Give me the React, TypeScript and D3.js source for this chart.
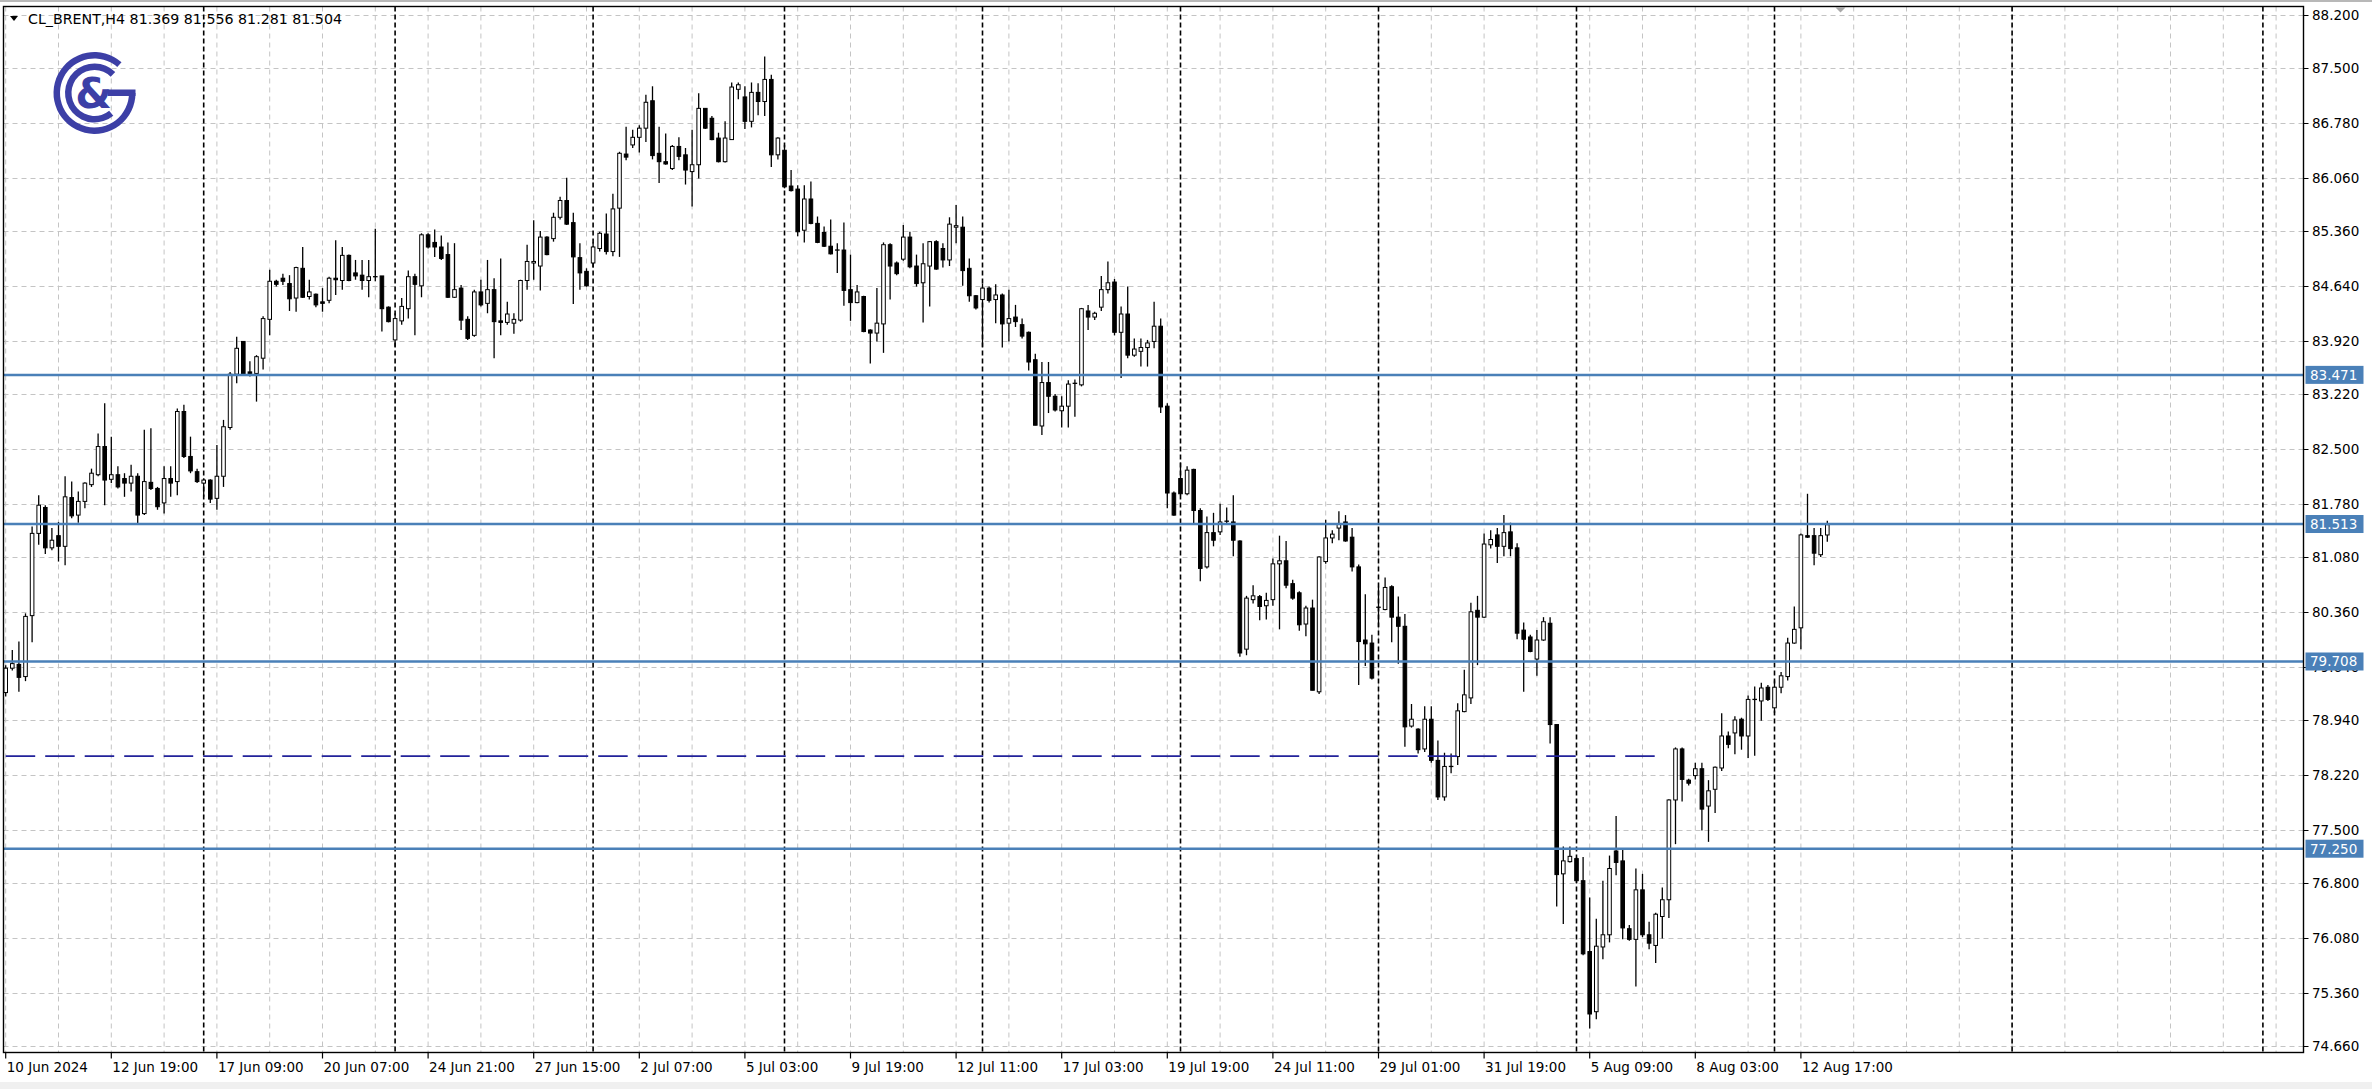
import React from "react";
import * as d3 from "d3";

const W = 2372;
const H = 1089;
const frame = { left: 3.5, top: 6.5, right: 2303.5, bottom: 1052.5 };

const opens = [
  79.30,79.62,79.67,79.51,80.31,81.39,81.73,81.20,81.36,81.22,
  81.86,81.63,81.81,82.03,82.16,82.53,82.10,82.16,82.11,82.05,
  82.14,81.65,82.06,81.98,81.79,82.11,82.07,82.99,82.40,82.20,
  82.05,82.09,81.85,82.14,82.78,83.48,83.91,83.51,83.49,83.69,
  84.20,84.70,84.74,84.67,84.48,84.87,84.50,84.53,84.43,84.45,
  84.74,84.71,85.04,84.81,84.78,84.71,84.75,84.77,84.36,83.93,
  84.18,84.34,84.76,84.64,85.31,85.21,85.15,85.05,84.49,84.61,
  84.20,83.99,84.56,84.41,84.59,84.18,84.16,84.15,84.19,84.71,
  84.94,84.90,85.28,85.26,85.54,85.76,85.47,85.01,84.83,84.94,
  85.13,85.32,85.09,85.66,86.37,86.49,86.59,86.71,87.07,86.38,
  86.27,86.18,86.47,86.36,86.14,86.23,86.97,86.84,86.58,86.27,
  86.56,87.22,87.12,86.80,87.18,87.06,87.35,86.36,86.42,85.95,
  85.91,85.37,85.78,85.46,85.34,85.16,85.11,85.11,84.59,84.42,
  84.50,84.06,84.02,84.14,85.18,84.94,84.99,85.28,84.90,84.68,
  84.90,85.22,85.13,84.98,85.41,85.41,84.87,84.51,84.46,84.61,
  84.46,84.52,84.15,84.23,84.13,84.03,83.67,82.80,83.37,83.19,
  83.00,83.06,83.35,83.34,84.31,84.23,84.36,84.59,84.69,84.03,
  84.27,83.73,83.78,83.83,83.91,84.11,83.06,81.92,82.11,81.91,
  82.23,81.69,80.95,81.40,81.41,81.54,81.54,81.29,79.87,80.52,
  80.56,80.44,80.52,80.99,81.03,80.73,80.61,80.20,80.41,79.31,
  81.02,81.33,81.46,81.54,81.34,80.95,79.99,79.95,80.41,80.39,
  80.69,80.29,80.17,78.86,78.82,78.56,78.95,78.41,77.93,78.33,
  78.46,79.05,79.23,80.38,80.29,81.24,81.37,81.22,81.41,81.20,
  80.12,80.03,79.74,79.99,80.21,78.88,76.92,77.08,77.12,76.83,
  75.90,75.11,75.96,76.12,77.22,77.09,76.20,76.06,76.71,76.12,
  75.98,76.36,76.58,77.89,78.56,78.15,78.21,78.30,77.81,78.03,
  78.31,78.73,78.77,78.95,78.73,79.21,79.19,79.37,79.10,79.37,
  79.51,79.95,80.15,81.36,81.36,81.11,81.369,
];

const highs = [
  79.66,79.86,79.97,80.34,81.48,81.89,81.76,81.46,81.54,82.14,
  82.07,81.94,82.06,82.24,82.70,83.10,82.66,82.27,82.18,82.29,
  82.18,82.75,82.77,82.00,82.27,82.27,83.03,83.08,82.66,82.24,
  82.11,82.10,82.55,82.88,83.51,83.97,83.91,83.65,83.73,84.24,
  84.85,84.72,84.80,84.78,84.89,85.15,84.72,84.54,84.61,84.76,
  85.24,85.15,85.05,84.98,84.98,84.98,85.39,84.77,84.37,84.28,
  84.48,84.84,84.80,85.33,85.33,85.38,85.30,85.21,85.20,84.65,
  84.24,84.59,84.72,84.98,84.74,85.00,84.43,84.28,84.72,85.18,
  85.50,85.36,85.29,85.60,85.81,86.06,85.60,85.20,84.87,85.21,
  85.35,85.59,85.85,86.40,86.73,86.69,86.75,87.15,87.26,86.73,
  86.64,86.49,86.59,86.45,86.69,87.17,86.97,86.87,86.65,86.80,
  87.31,87.31,87.26,87.31,87.30,87.65,87.41,86.59,86.49,86.16,
  85.96,85.96,86.01,85.55,85.42,85.51,85.20,85.47,85.05,84.65,
  84.51,84.07,84.61,85.21,85.20,84.96,85.44,85.35,85.05,85.20,
  85.23,85.24,85.20,85.54,85.70,85.55,85.00,84.52,84.67,84.63,
  84.66,84.54,84.59,84.39,84.21,84.04,83.75,83.64,83.64,83.22,
  83.19,83.40,83.41,84.35,84.39,84.30,84.77,84.96,84.73,84.37,
  84.63,83.95,83.95,83.93,84.43,84.21,83.10,81.94,82.32,82.27,
  82.24,81.72,81.61,81.66,81.78,81.73,81.89,81.30,80.57,80.71,
  80.58,80.61,81.06,81.36,81.29,80.78,80.63,80.44,80.52,81.09,
  81.57,81.43,81.68,81.63,81.46,80.98,80.59,80.06,80.69,80.81,
  80.71,80.56,80.33,79.15,78.83,79.12,79.12,78.67,78.51,78.50,
  79.16,79.60,80.48,80.57,81.39,81.43,81.46,81.63,81.53,81.26,
  80.22,80.06,80.12,80.29,80.29,78.88,77.28,77.28,77.14,77.14,
  76.61,76.33,76.83,77.16,77.68,77.26,76.25,76.99,76.92,76.29,
  76.41,76.74,77.90,78.58,78.58,78.17,78.38,78.38,78.15,78.33,
  79.03,78.79,78.99,78.97,79.26,79.38,79.43,79.40,79.46,79.57,
  80.02,80.43,81.39,81.91,81.46,81.46,81.556,
];

const lows = [
  79.25,79.59,79.31,79.45,79.96,81.24,81.12,81.17,81.02,80.97,
  81.59,81.53,81.72,82.00,82.14,81.76,82.05,81.98,81.87,81.94,
  81.52,81.63,81.96,81.70,81.65,81.87,81.89,82.38,82.18,82.05,
  81.87,81.79,81.70,82.00,82.75,83.36,83.46,83.45,83.12,83.54,
  83.99,84.63,84.65,84.31,84.30,84.48,84.46,84.36,84.30,84.41,
  84.52,84.59,84.70,84.72,84.59,84.49,84.70,84.04,84.16,83.84,
  84.13,84.21,83.99,84.49,85.13,85.02,84.98,84.48,84.48,84.06,
  83.93,83.97,84.37,84.28,83.69,83.99,84.13,84.01,84.17,84.59,
  84.72,84.58,85.04,85.22,85.51,85.44,84.40,84.59,84.63,84.88,
  85.09,85.05,85.03,85.02,86.29,86.45,86.39,86.53,86.30,85.99,
  86.23,86.16,86.29,85.97,85.68,86.05,86.70,86.55,86.26,86.26,
  86.56,87.09,86.70,86.72,86.88,86.87,86.20,86.30,85.92,85.88,
  85.29,85.21,85.45,85.20,85.15,85.05,84.81,84.38,84.18,84.41,
  84.03,83.62,83.91,83.76,84.46,84.78,84.97,84.87,84.63,84.16,
  84.37,84.85,84.88,84.90,85.20,84.64,84.43,84.33,83.84,84.42,
  84.15,83.83,83.91,84.10,83.95,83.53,82.81,82.68,82.97,82.99,
  82.78,82.78,82.92,83.32,84.06,84.19,84.31,84.54,83.99,83.43,
  83.69,83.71,83.58,83.58,83.82,82.97,81.72,81.62,81.89,81.89,
  81.52,80.76,80.93,81.22,81.37,81.50,81.09,79.77,79.79,80.47,
  80.25,80.26,80.44,80.13,80.67,80.52,80.11,80.04,79.33,79.28,
  80.99,81.26,81.30,81.28,80.89,79.40,79.65,79.47,80.16,80.38,
  79.96,79.68,78.59,78.84,78.50,78.52,78.38,77.89,77.88,78.24,
  78.35,79.04,79.15,79.66,80.28,81.19,81.00,81.09,81.09,80.00,
  79.31,79.83,79.52,79.98,78.63,76.49,76.26,77.07,76.80,75.85,
  74.89,75.01,75.80,76.02,76.90,76.06,76.04,75.44,76.09,75.93,
  75.75,76.07,76.34,77.31,77.87,78.08,78.16,77.49,77.34,77.72,
  78.27,78.57,78.49,78.55,78.44,78.47,78.93,79.19,79.03,79.29,
  79.46,79.94,79.87,81.33,80.97,81.08,81.281,
];

const closes = [
  79.62,79.68,79.50,80.30,81.39,81.76,81.20,81.30,81.22,81.87,
  81.62,81.81,82.05,82.18,82.53,82.09,82.16,82.00,82.05,82.14,
  81.63,82.07,81.98,81.74,82.11,82.05,82.99,82.40,82.21,82.07,
  82.09,81.84,82.14,82.79,83.48,83.82,83.48,83.47,83.71,84.21,
  84.70,84.66,84.70,84.47,84.88,84.49,84.56,84.39,84.41,84.74,
  84.72,85.04,84.71,84.77,84.71,84.76,84.76,84.34,84.17,84.21,
  84.37,84.76,84.66,85.31,85.15,85.15,85.00,84.49,84.59,84.19,
  83.95,84.56,84.39,84.59,84.17,84.16,84.27,84.20,84.71,84.96,
  84.96,85.28,85.05,85.54,85.76,85.45,85.02,84.81,84.64,85.15,
  85.33,85.09,85.65,86.38,86.33,86.59,86.71,87.05,86.35,86.27,
  86.24,86.47,86.34,86.16,86.23,86.97,86.71,86.56,86.27,86.58,
  87.25,87.28,86.80,87.18,87.06,87.35,86.36,86.58,85.94,85.89,
  85.35,85.78,85.46,85.21,85.16,85.06,85.10,84.58,84.42,84.56,
  84.04,84.02,84.15,85.18,84.90,84.80,85.28,84.89,84.67,84.93,
  85.22,84.86,84.98,85.45,85.43,84.84,84.51,84.35,84.61,84.45,
  84.52,84.14,84.21,84.17,83.98,83.64,82.81,83.37,83.19,83.01,
  83.06,83.35,83.36,84.34,84.23,84.28,84.59,84.68,84.03,84.27,
  83.73,83.81,83.83,83.89,84.11,83.05,81.92,81.63,81.91,82.22,
  81.69,80.93,81.40,81.30,81.54,81.55,81.30,79.82,80.54,80.57,
  80.43,80.51,80.99,81.03,80.71,80.54,80.19,80.41,79.33,81.08,
  81.33,81.38,81.52,81.29,80.95,79.97,79.94,79.49,80.42,80.68,
  80.29,80.17,78.85,78.95,78.55,78.95,78.41,77.93,78.33,78.32,
  79.06,79.27,80.36,80.29,81.25,81.31,81.22,81.40,81.19,80.08,
  80.00,79.84,79.99,80.23,78.88,76.91,77.09,77.15,76.83,75.87,
  75.08,75.97,76.12,76.99,77.07,76.21,76.06,76.71,76.12,76.01,
  76.39,76.58,77.89,78.56,78.16,78.11,78.30,77.77,78.01,78.32,
  78.73,78.62,78.94,78.73,79.21,79.21,79.36,79.21,79.37,79.52,
  79.95,80.13,81.37,81.34,81.13,81.36,81.504,
];

const priceTicks = [88.2, 87.5, 86.78, 86.06, 85.36, 84.64, 83.92, 83.22, 82.5, 81.78,
  81.08, 80.36, 79.64, 78.94, 78.22, 77.5, 76.8, 76.08, 75.36, 74.66];

const timeLabels = ["10 Jun 2024", "12 Jun 19:00", "17 Jun 09:00", "20 Jun 07:00", "24 Jun 21:00",
  "27 Jun 15:00", "2 Jul 07:00", "5 Jul 03:00", "9 Jul 19:00", "12 Jul 11:00", "17 Jul 03:00",
  "19 Jul 19:00", "24 Jul 11:00", "29 Jul 01:00", "31 Jul 19:00", "5 Aug 09:00", "8 Aug 03:00",
  "12 Aug 17:00"];
const timeLabelStep = 16;
const gridStep = 8;
const weekStarts = [30, 59, 89, 118, 148, 178, 208, 238, 268, 304, 342];
const levels = [83.471, 81.513, 79.708, 77.25];
const dashedLevel = 78.465;
const dashedFrom = 0;
const dashedTo = 250;
const shiftMarkBar = 278;
const header = "CL_BRENT,H4  81.369 81.556 81.281 81.504";

const FONT = "'DejaVu Sans', Tahoma, sans-serif";
const LEVEL_COLOR = "#4a80b8";
const LOGO_COLOR = "#3c3fa6";

export default function App() {
  const x = d3.scaleLinear().domain([0, 1]).range([5.7, 12.3]);
  const y = d3.scaleLinear().domain([74.581, 88.314]).range([1052, 6]);
  const fmt = d3.format(".3f");

  const bars = opens.map((o, i) => {
    const c = closes[i];
    const h = Math.max(highs[i], o, c);
    const l = Math.min(lows[i], o, c);
    return { i, o, h, l, c };
  });

  const gridBars: number[] = [];
  for (let b = 0; x(b) < frame.right - 2; b += gridStep) gridBars.push(b);

  const logoCx = 94.5, logoCy = 93;
  const outerArc = d3.arc()({ innerRadius: 34.5, outerRadius: 41, startAngle: Math.PI / 2, endAngle: Math.PI * 2 + 0.72 } as any) as string;
  const innerArc = d3.arc()({ innerRadius: 23, outerRadius: 29.5, startAngle: 2.45, endAngle: Math.PI * 2 + 0.78 } as any) as string;

  const bw = 3.6;

  return (
    <svg width={W} height={H} style={{ position: "absolute", left: 0, top: 0, background: "#fff" }}>
      <rect x={0} y={0} width={W} height={H} fill="#fff" />
      <rect x={0} y={0} width={W} height={2} fill="#b8b8b8" />
      <rect x={0} y={1082} width={W} height={H - 1082} fill="#f0f0f0" />

      {/* horizontal grid */}
      <g stroke="#c4c4c4" strokeWidth={1} strokeDasharray="5,4">
        {priceTicks.map((p, k) => (
          <line key={"hg" + k} x1={frame.left} x2={frame.right} y1={Math.round(y(p)) + 0.5} y2={Math.round(y(p)) + 0.5} />
        ))}
        {gridBars.map((b) => (
          <line key={"vg" + b} x1={x(b)} x2={x(b)} y1={frame.top} y2={frame.bottom} />
        ))}
      </g>

      {/* week separators */}
      <g stroke="#000" strokeWidth={1.6} strokeDasharray="5,3">
        {weekStarts.map((b) => (
          <line key={"ws" + b} x1={x(b)} x2={x(b)} y1={frame.top} y2={frame.bottom} />
        ))}
      </g>

      {/* logo */}
      <g fill={LOGO_COLOR}>
        <path d={outerArc} transform={`translate(${logoCx},${logoCy})`} />
        <path d={innerArc} transform={`translate(${logoCx},${logoCy})`} />
        <rect x={logoCx + 13} y={logoCy - 3.5} width={28} height={6.5} />
        <text x={logoCx - 1} y={logoCy + 15} fontFamily={FONT} fontWeight="bold" fontSize={42} textAnchor="middle">&amp;</text>
      </g>

      {/* candles */}
      <g>
        {bars.map((d) => {
          const cx = x(d.i);
          const top = y(Math.max(d.o, d.c));
          const bot = y(Math.min(d.o, d.c));
          const bull = d.c >= d.o;
          const hgt = Math.max(bot - top, 1);
          return (
            <g key={"c" + d.i}>
              <line x1={cx} x2={cx} y1={y(d.h)} y2={y(d.l)} stroke="#000" strokeWidth={1.3} />
              {bot - top < 1.2 ? (
                <line x1={cx - bw / 2 - 0.5} x2={cx + bw / 2 + 0.5} y1={top} y2={top} stroke="#000" strokeWidth={1.3} />
              ) : (
                <rect x={cx - bw / 2} y={top} width={bw} height={hgt} fill={bull ? "#fff" : "#000"} stroke="#000" strokeWidth={1} />
              )}
            </g>
          );
        })}
      </g>

      {/* levels */}
      <g>
        {levels.map((p) => (
          <line key={"lv" + p} x1={frame.left} x2={frame.right} y1={y(p)} y2={y(p)} stroke={LEVEL_COLOR} strokeWidth={2.5} />
        ))}
        <line x1={x(dashedFrom)} x2={x(dashedTo)} y1={y(dashedLevel)} y2={y(dashedLevel)} stroke="#22229a" strokeWidth={1.8} strokeDasharray="29.5,10" />
      </g>

      {/* shift marker */}
      <path d={`M${x(shiftMarkBar) - 5},${frame.top + 1} L${x(shiftMarkBar) + 5},${frame.top + 1} L${x(shiftMarkBar)},${frame.top + 6} Z`} fill="#a8a8a8" />

      {/* frame */}
      <rect x={frame.left} y={frame.top} width={frame.right - frame.left} height={frame.bottom - frame.top} fill="none" stroke="#000" strokeWidth={1.4} />

      {/* right axis */}
      <g fontFamily={FONT} fontSize={13.5} fill="#000">
        {priceTicks.map((p, k) => (
          <g key={"pt" + k}>
            <line x1={frame.right} x2={frame.right + 5} y1={Math.round(y(p)) + 0.5} y2={Math.round(y(p)) + 0.5} stroke="#000" strokeWidth={1} />
            <text x={2312} y={y(p) + 5}>{fmt(p)}</text>
          </g>
        ))}
        {levels.map((p) => (
          <g key={"lb" + p}>
            <rect x={frame.right + 2} y={y(p) - 9} width={58} height={18} fill={LEVEL_COLOR} />
            <text x={2310} y={y(p) + 5} fill="#fff">{fmt(p)}</text>
          </g>
        ))}
      </g>

      {/* bottom axis */}
      <g fontFamily={FONT} fontSize={13.5} fill="#000">
        {timeLabels.map((t, k) => {
          const bx = x(k * timeLabelStep);
          return (
            <g key={"tl" + k}>
              <line x1={bx} x2={bx} y1={frame.bottom} y2={frame.bottom + 6} stroke="#000" strokeWidth={1.2} />
              <text x={bx + 1} y={1072}>{t}</text>
            </g>
          );
        })}
      </g>

      {/* header */}
      <path d="M10,16 L18,16 L14,21 Z" fill="#000" />
      <text x={28} y={24} fontFamily={FONT} fontSize={14} fill="#000" textLength={314} lengthAdjust="spacingAndGlyphs">{header}</text>
    </svg>
  );
}
